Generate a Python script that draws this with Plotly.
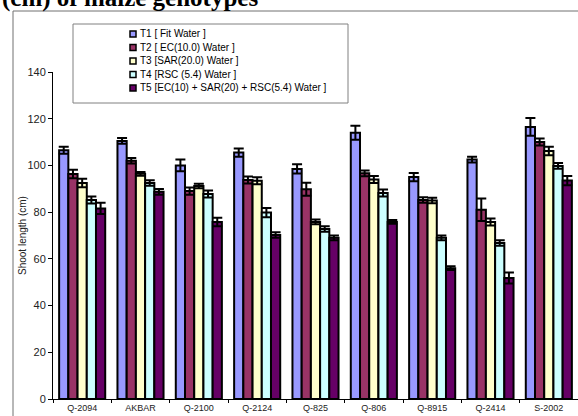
import plotly.graph_objects as go

# Genotypes on the x axis
genotypes = ["Q-2094", "AKBAR", "Q-2100", "Q-2124", "Q-825",
             "Q-806", "Q-8915", "Q-2414", "S-2002"]

# Treatment names
treatments = [
    "T1 [ Fit Water ]",
    "T2 [ EC(10.0) Water ]",
    "T3 [SAR(20.0) Water ]",
    "T4 [RSC (5.4) Water ]",
    "T5 [EC(10) + SAR(20) + RSC(5.4) Water ]",
]

# Mean shoot length (cm) per treatment
t1 = [106.5, 110.5, 100.0, 105.5, 98.5, 114.0, 95.0, 102.5, 116.5]
t2 = [96.3, 102.0, 89.0, 93.8, 89.8, 96.6, 85.2, 81.0, 110.0]
t3 = [92.5, 96.4, 91.2, 93.4, 75.8, 94.0, 85.0, 75.8, 106.2]
t4 = [85.2, 92.5, 87.8, 79.8, 72.8, 88.2, 69.0, 66.8, 99.8]
t5 = [81.6, 88.7, 75.8, 70.2, 69.0, 75.8, 56.0, 51.8, 93.5]

# Standard errors
e1 = [1.5, 1.2, 2.5, 1.8, 2.0, 3.0, 1.8, 1.2, 3.8]
e2 = [1.8, 1.2, 1.5, 1.5, 2.8, 1.2, 1.2, 4.8, 1.5]
e3 = [1.8, 0.8, 1.0, 1.5, 1.0, 1.5, 1.2, 1.5, 1.8]
e4 = [1.5, 1.2, 1.5, 2.0, 1.2, 1.5, 1.0, 1.2, 1.2]
e5 = [2.4, 1.2, 1.8, 1.2, 1.0, 0.8, 0.8, 2.4, 2.0]

colors = ["#9999FF", "#993366", "#FFFFCC", "#CCFFFF", "#660066"]

series = [t1, t2, t3, t4, t5]
errors = [e1, e2, e3, e4, e5]

W, H = 578, 416
L, R, T, B = 53, 0, 72, 17
PW, PH = W - L - R, H - T - B


def px_x(px):
    return (px - L) / PW


def px_y(py):
    return (H - B - py) / PH


fig = go.Figure()
for name, vals, errs, col in zip(treatments, series, errors, colors):
    fig.add_trace(go.Bar(
        x=genotypes, y=vals, name=name,
        marker=dict(color=col, line=dict(color="black", width=2)),
        error_y=dict(type="data", array=errs, color="black",
                     thickness=2, width=5),
        showlegend=False,
    ))

shapes = []
annotations = []

# Outer chart frame (left and top edges)
shapes.append(dict(type="line", xref="paper", yref="paper",
                   x0=px_x(13), x1=px_x(13), y0=px_y(11), y1=px_y(H + 5),
                   line=dict(color="#707070", width=1)))
shapes.append(dict(type="line", xref="paper", yref="paper",
                   x0=px_x(13), x1=px_x(W + 5), y0=px_y(11), y1=px_y(11),
                   line=dict(color="#707070", width=1)))

# Legend box
shapes.append(dict(type="rect", xref="paper", yref="paper",
                   x0=px_x(73), x1=px_x(348), y0=px_y(24), y1=px_y(103),
                   line=dict(color="#808080", width=1), fillcolor="white"))

row_y = [34, 47.5, 61, 74.5, 88]
for name, col, ry in zip(treatments, colors, row_y):
    shapes.append(dict(type="rect", xref="paper", yref="paper",
                       x0=px_x(130), x1=px_x(136),
                       y0=px_y(ry - 3), y1=px_y(ry + 3),
                       line=dict(color="black", width=1.5), fillcolor=col))
    annotations.append(dict(xref="paper", yref="paper",
                            x=px_x(138), y=px_y(ry), text=name,
                            showarrow=False, xanchor="left", yanchor="middle",
                            font=dict(family="Liberation Sans", size=10,
                                      color="black")))

# Title (runs off the top edge)
annotations.append(dict(xref="paper", yref="paper",
                        x=px_x(0), y=px_y(14),
                        text="<b>(cm) of maize genotypes</b>",
                        showarrow=False, xanchor="left", yanchor="bottom",
                        font=dict(family="Liberation Serif", size=25,
                                  color="black")))

# Y axis title
annotations.append(dict(xref="paper", yref="paper",
                        x=px_x(23), y=px_y(236), text="Shoot length (cm)",
                        textangle=-90, showarrow=False,
                        xanchor="center", yanchor="middle",
                        font=dict(family="Liberation Sans", size=10,
                                  color="#222222")))

fig.update_layout(
    width=W, height=H,
    margin=dict(l=L, r=R, t=T, b=B, pad=0),
    paper_bgcolor="white", plot_bgcolor="white",
    barmode="group", bargap=0.21, bargroupgap=0,
    shapes=shapes, annotations=annotations,
    font=dict(family="Liberation Sans", color="black"),
)

fig.update_xaxes(
    showgrid=False, showline=True, linecolor="black", linewidth=1,
    ticks="outside", ticklen=3, tickcolor="black", tickson="boundaries",
    tickfont=dict(size=9, family="Liberation Sans", color="#222222"),
)
fig.update_yaxes(
    range=[0, 140], dtick=20, showgrid=False, zeroline=False,
    showline=True, linecolor="black", linewidth=1,
    ticks="outside", ticklen=4, tickcolor="black",
    tickfont=dict(size=11, family="Liberation Sans", color="#222222"),
)

fig.write_html("out.html")
